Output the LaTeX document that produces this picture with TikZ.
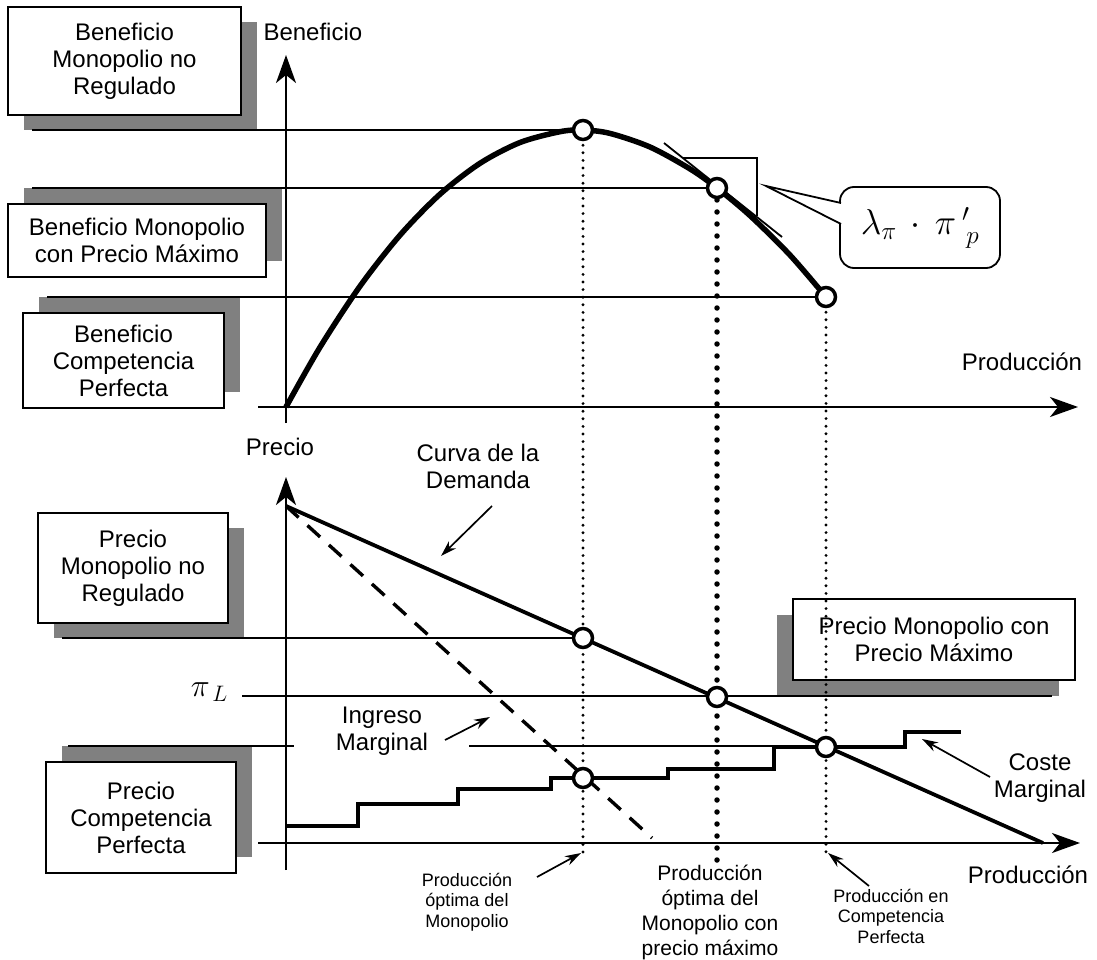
\RequirePackage{fix-cm}
\documentclass[tikz,border=0pt]{standalone}
\usepackage{fontspec}
\setmainfont{Liberation Sans}
\usetikzlibrary{arrows.meta,shadows}
\begin{document}
\begin{tikzpicture}[x=1pt,y=-1pt,
  axisline/.style={line width=2.2pt,-{Stealth[length=28pt,width=20pt,inset=8pt]}},
  hline/.style={line width=1.8pt},
  infobox/.style={draw,line width=2pt,fill=white,align=center,inner sep=0pt,
    font=\fontsize{24}{27}\selectfont},
  shadowdown/.style={drop shadow={shadow xshift=16pt,shadow yshift=-15pt,fill=black!50,opacity=1}},
  shadowup/.style={drop shadow={shadow xshift=16pt,shadow yshift=16pt,fill=black!50,opacity=1}},
  shadowleft/.style={drop shadow={shadow xshift=-16pt,shadow yshift=-16pt,fill=black!50,opacity=1}},
  axtext/.style={align=center,font=\fontsize{24}{27}\selectfont},
  smalltext/.style={align=center,font=\fontsize{18}{20.5}\selectfont},
  midtext/.style={align=center,font=\fontsize{21}{25}\selectfont},
  pointer/.style={line width=1.7pt,-{Stealth[length=16pt,width=10pt]}},
  ptmark/.style={circle,draw,line width=3.5pt,fill=white,minimum size=19pt,inner sep=0pt},
  finedots/.style={line width=3.2pt,line cap=round,dash pattern=on 0pt off 7.6pt},
  heavydots/.style={line width=5.5pt,line cap=round,dash pattern=on 0pt off 12pt},
  profitcurve/.style={line width=5.5pt},
  stair/.style={line width=4pt},
  demand/.style={line width=3.8pt},
  mrline/.style={line width=3.4pt,dash pattern=on 17pt off 12pt}
]
\useasboundingbox (0,0) rectangle (1097,960);

% ---------- label boxes with offset shadows ----------
\node[infobox,shadowdown,minimum width=233pt,minimum height=108pt] (bMon) at (124.5,61) {Beneficio\\Monopolio no\\Regulado};
\node[infobox,shadowup,minimum width=258pt,minimum height=73pt] (bMax) at (137,240.5) {Beneficio Monopolio\\con Precio Máximo};
\node[infobox,shadowup,minimum width=201pt,minimum height=95pt] (bComp) at (123.5,360.5) {Beneficio\\Competencia\\Perfecta};
\node[infobox,shadowdown,minimum width=190pt,minimum height=110pt] (pMon) at (133,568) {Precio\\Monopolio no\\Regulado};
\node[infobox,shadowup,minimum width=190pt,minimum height=111pt] (pComp) at (141,817.5) {Precio\\Competencia\\Perfecta};
\node[infobox,shadowleft,minimum width=282pt,minimum height=81pt] (pMax) at (934,639.5) {Precio Monopolio con\\Precio Máximo};

% ---------- key points ----------
\coordinate (pA) at (583,130);
\coordinate (pB) at (717,188);
\coordinate (pC) at (826,297);
\coordinate (qA) at (583,638);
\coordinate (qB) at (717,697);
\coordinate (qC) at (826,747);
\coordinate (qD) at (583,778);

% ---------- upper graph: profit ----------
\coordinate (yTop0) at (286,423);
\coordinate (yTop1) at (286,55);
\coordinate (xTop0) at (258,407);
\coordinate (xTop1) at (1078,407);
\draw[axisline] (yTop0) -- (yTop1);
\draw[axisline] (xTop0) -- (xTop1);
\node[axtext,anchor=west] (benLbl) at (260,32) {Beneficio};
\node[axtext] (prodTop) at (1022,362) {Producción};

\coordinate (h1) at (32,130);
\coordinate (h2) at (32,188);
\coordinate (h3) at (47,297);
\draw[hline] (h1) -- (pA);
\draw[hline] (h2) -- (pB);
\draw[hline] (h3) -- (pC);

\draw[finedots] (pA) -- (583,853) coordinate (dA);
\draw[heavydots] (pB) -- (717,860) coordinate (dB);
\draw[finedots] (pC) -- (826,852) coordinate (dC);

\draw[profitcurve] plot[smooth] coordinates {(286,407) (320,347.2) (360,286.2) (400,235.2)
  (440,194.2) (480,163.3) (520,142.5) (560,131.7) (583,130) (610,133.4) (650,147)
  (690,168.9) (717,188) (750,215.6) (790,255.1) (826,297)};

% tangent with slope triangle
\coordinate (t0) at (664,143);
\coordinate (t1) at (782,237);
\draw[hline] (t0) -- (t1);
\coordinate (s0) at (683,158);
\coordinate (s1) at (757,158);
\coordinate (s2) at (757,216);
\draw[hline] (s0) -- (s1) -- (s2);

% callout with the slope expression
\node[draw,line width=1.8pt,rounded corners=14pt,fill=white,minimum width=160pt,minimum height=81pt,
  font=\fontsize{36}{38}\selectfont] (lam) at (920,227.5) {$\lambda_{\pi}\,\cdot\,\pi{\,}'_{\,p}$};
\coordinate (cTip) at (766,186);
\coordinate (cB1) at (841,203);
\coordinate (cB2) at (841,224);
\fill[white] (cB1) -- (cTip) -- (cB2) -- cycle;
\draw[line width=1.8pt] (cB1) -- (cTip) -- (cB2);

% ---------- lower graph: price ----------
\coordinate (yBot0) at (286,870);
\coordinate (yBot1) at (286,477);
\coordinate (xBot0) at (258,843);
\coordinate (xBot1) at (1080,843);
\draw[axisline] (yBot0) -- (yBot1);
\draw[axisline] (xBot0) -- (xBot1);
\node[axtext] (precioLbl) at (280,447) {Precio};
\node[axtext] (prodBot) at (1028,875) {Producción};

\coordinate (h4) at (62,638);
\coordinate (h5a) at (242,696);
\coordinate (h5b) at (1052,696);
\coordinate (h6a) at (68,746);
\coordinate (h6b) at (294,746);
\coordinate (h6c) at (469,746);
\coordinate (h6d) at (777,746);
\draw[hline] (h4) -- (qA);
\draw[hline] (h5a) -- (h5b);
\draw[hline] (h6a) -- (h6b);
\draw[hline] (h6c) -- (h6d);
\node[anchor=east,inner sep=0pt,font=\fontsize{32}{32}\selectfont] (piL) at (228,692) {$\pi_{\,L}$};

% demand and marginal revenue
\coordinate (dem0) at (286,506);
\coordinate (dem1) at (1043,843);
\coordinate (mr1) at (652,838);
\draw[demand] (dem0) -- (dem1);
\draw[mrline] (dem0) -- (mr1);

% marginal cost staircase
\draw[stair] (286,826) -- (358,826) |- (458,804) |- (551,789) |- (668,778)
  |- (774,769) |- (905,747) |- (961,732);

% ---------- annotations ----------
\node[axtext] (demLbl) at (478,466.5) {Curva de la\\Demanda};
\coordinate (aDem0) at (492,506);
\coordinate (aDem1) at (441,556);
\draw[pointer] (aDem0) -- (aDem1);

\node[axtext] (mrLbl) at (382,731) {Ingreso\\Marginal};
\coordinate (aMr0) at (445,740);
\coordinate (aMr1) at (490,717);
\draw[pointer] (aMr0) -- (aMr1);

\node[axtext] (mcLbl) at (1040,778) {Coste\\Marginal};
\coordinate (aMc0) at (990,777);
\coordinate (aMc1) at (922,739);
\draw[pointer] (aMc0) -- (aMc1);

\node[smalltext] (qMonLbl) at (467,902) {Producción\\óptima del\\Monopolio};
\coordinate (aQm0) at (537,877);
\coordinate (aQm1) at (581,853);
\draw[pointer] (aQm0) -- (aQm1);

\node[midtext] (qMaxLbl) at (710,912) {Producción\\óptima del\\Monopolio con\\precio máximo};

\node[smalltext] (qCompLbl) at (891,916) {Producción en\\Competencia\\Perfecta};
\coordinate (aQc0) at (869,886);
\coordinate (aQc1) at (828,853);
\draw[pointer] (aQc0) -- (aQc1);

% ---------- equilibrium markers ----------
\foreach \p in {pA,pB,pC,qA,qB,qC,qD}
  \node[ptmark] at (\p) {};
\end{tikzpicture}
\end{document}
